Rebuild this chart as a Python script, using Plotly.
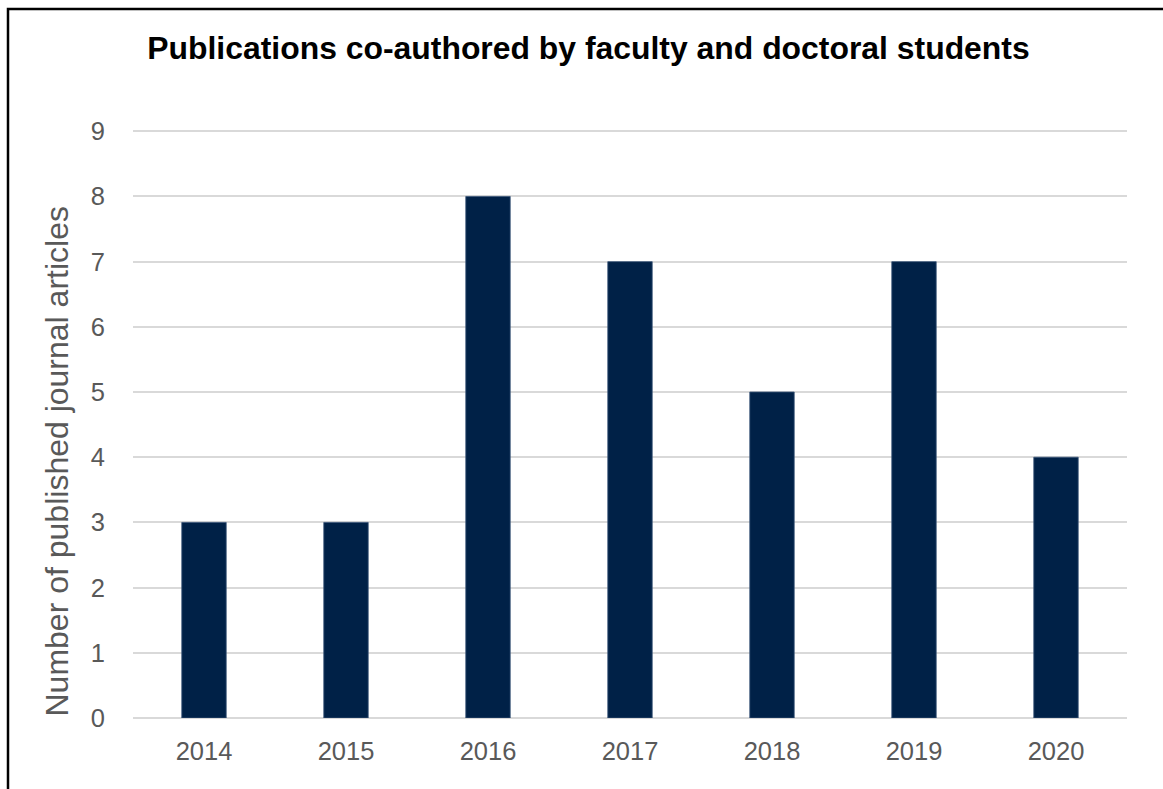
import plotly.graph_objects as go

years = ["2014", "2015", "2016", "2017", "2018", "2019", "2020"]
articles = [3, 3, 8, 7, 5, 7, 4]

W, H = 1163, 789
L, R, T, B = 133, 36, 128, 71
pw, ph = W - L - R, H - T - B


def px_x(x):
    return (x - L) / pw


def px_y(y):
    return (H - B - y) / ph


fig = go.Figure(
    go.Bar(
        x=years,
        y=articles,
        marker=dict(color="#002147", line=dict(color="#3A5578", width=0.8)),
        width=0.313,
    )
)

fig.update_layout(
    width=W,
    height=H,
    margin=dict(l=L, r=R, t=T, b=B),
    paper_bgcolor="white",
    plot_bgcolor="white",
    font=dict(family="Liberation Sans, Arial, sans-serif", color="#595959"),
    title=dict(
        text="<b>Publications co-authored by faculty and doctoral students</b>",
        x=0.506,
        xanchor="center",
        y=1 - 48 / H,
        yanchor="middle",
        font=dict(size=31.9, color="#000000"),
    ),
    showlegend=False,
    bargap=0.687,
    annotations=[
        dict(
            text="Number of published journal articles",
            textangle=-90,
            xref="paper",
            yref="paper",
            x=px_x(56.5),
            y=px_y(462),
            xanchor="center",
            yanchor="middle",
            showarrow=False,
            font=dict(size=32, color="#595959"),
        )
    ],
    shapes=[
        dict(
            type="rect",
            xref="paper",
            yref="paper",
            x0=px_x(8),
            x1=px_x(1175),
            y0=px_y(805),
            y1=px_y(9),
            line=dict(color="black", width=2.5),
            fillcolor="rgba(0,0,0,0)",
            layer="above",
        )
    ],
)

fig.update_xaxes(
    type="category",
    tickfont=dict(size=25.5, color="#595959"),
    showline=False,
    ticks="outside",
    ticklen=10,
    tickcolor="rgba(0,0,0,0)",
    showgrid=False,
)
fig.update_yaxes(
    range=[0, 9.05],
    tick0=0,
    dtick=1,
    tickfont=dict(size=25.5, color="#595959"),
    showgrid=True,
    gridcolor="#D9D9D9",
    gridwidth=1.5,
    zeroline=True,
    zerolinecolor="#D9D9D9",
    zerolinewidth=1.5,
    ticks="outside",
    ticklen=22,
    tickcolor="rgba(0,0,0,0)",
)

fig.write_html("out.html")
